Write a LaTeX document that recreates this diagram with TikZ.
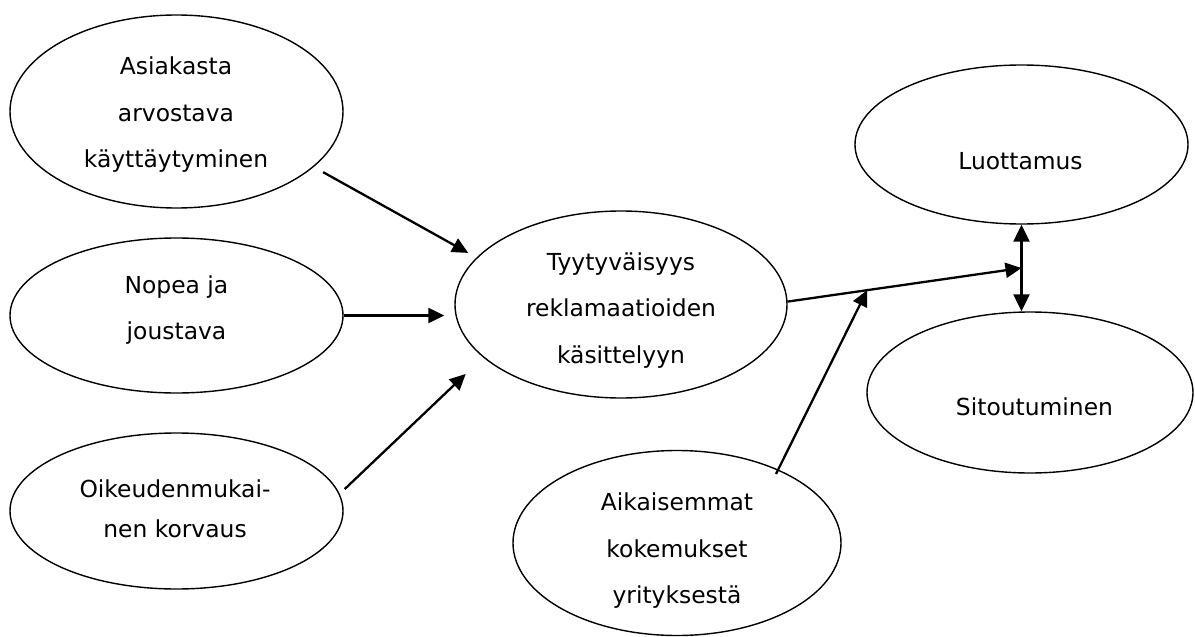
\documentclass[tikz,border=0pt]{standalone}
\usepackage{fontspec}
\setmainfont{DejaVu Sans}
\usetikzlibrary{shapes.geometric,arrows.meta,calc}

\begin{document}
\begin{tikzpicture}[x=1pt,y=-1pt,
  bubble/.style={draw, ellipse, line width=1.4pt, inner sep=0pt},
  lbl/.style={font=\fontsize{23.4}{46.5}\selectfont, align=center, inner sep=0pt},
  conn/.style={line width=2.3pt, -{Triangle[length=16pt,width=15pt]}},
  both/.style={line width=2.3pt, {Triangle[length=17pt,width=16pt]}-{Triangle[length=17pt,width=16pt]}}
]
\useasboundingbox (0,0) rectangle (1195,637);

% ellipses
\node[bubble, minimum width=333pt, minimum height=193pt] (e1) at (176.5,111.5) {};
\node[bubble, minimum width=333pt, minimum height=155pt] (e2) at (176.5,315.5) {};
\node[bubble, minimum width=333pt, minimum height=156pt] (e3) at (176.5,511) {};
\node[bubble, minimum width=332pt, minimum height=187pt] (c)  at (621,304.5) {};
\node[bubble, minimum width=328pt, minimum height=185pt] (a)  at (677,543) {};
\node[bubble, minimum width=333pt, minimum height=159pt] (l)  at (1021.5,144.5) {};
\node[bubble, minimum width=326pt, minimum height=161pt] (s)  at (1030,392.5) {};

% texts
\node[lbl] (e1t) at (176,114.9) {Asiakasta\\arvostava\\käyttäytyminen};
\node[lbl] (e2t) at (176.5,309.9) {Nopea ja\\joustava};
\node[lbl, font=\fontsize{23.4}{40}\selectfont] (e3t) at (175,508.3) {Oikeudenmukai-\\nen korvaus};
\node[lbl] (ct) at (621,310.5) {Tyytyväisyys\\reklamaatioiden\\käsittelyyn};
\node[lbl] (at) at (677,550.6) {Aikaisemmat\\kokemukset\\yrityksestä};
\node[lbl] (lt) at (1020.5,161.6) {Luottamus};
\node[lbl] (st) at (1034.5,407) {Sitoutuminen};

% connectors
\draw[conn, shorten <=10.7pt, shorten >=9.5pt] (e1.-22.6) -- (c.162.4);
\draw[conn, shorten >=10pt] (e2.east) -- (e2.east -| c.west);
\draw[conn, shorten <=7pt, shorten >=24pt] (e3.6.8) -- (c.201.9);

\coordinate (m) at ($(l.south)!0.5!(l.south |- s.north)$);
\draw[both] (l.south) -- (l.south |- s.north);
\draw[conn] (c.1.5) -- (m);
\coordinate (j) at ($(c.1.5)!0.34!(m)$);
\draw[conn, shorten <=-5pt] (a.36) -- (j);
\end{tikzpicture}
\end{document}
